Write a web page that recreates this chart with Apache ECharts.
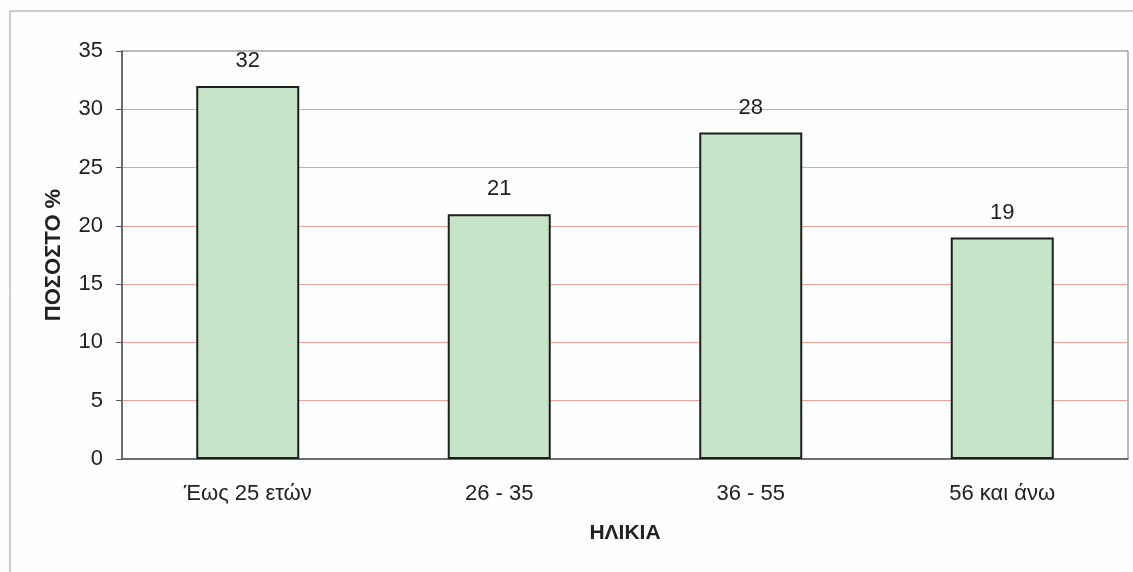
<!DOCTYPE html>
<html>
	<head>
		<meta charset="utf-8">
		<title></title>
	</head>
	<body style="margin:0;background:#fdfefe;">
		<div id="container" style="width: 1133px;height:572px;"></div>
	</body>
	<script src="https://cdn.jsdelivr.net/npm/echarts@6/dist/echarts.min.js"></script>
	<script type="text/javascript">
		'use strict'

		// ηλικιακές ομάδες και ποσοστά
		var categories = ['Έως 25 ετών', '26 - 35', '36 - 55', '56 και άνω'];
		var values = [32, 21, 28, 19];

		var myCharts = echarts.init(document.getElementById('container'));
		var option = {
			backgroundColor: '#fdfefe',
			textStyle: {
				fontFamily: '"Liberation Sans", Arial, sans-serif'
			},
			// πλαίσιο γύρω από το διάγραμμα
			graphic: [{
				type: 'polyline',
				shape: {
					points: [[10, 572], [10, 11], [1133, 11]]
				},
				style: {
					stroke: '#9a9a9a',
					lineWidth: 1,
					fill: null
				},
				silent: true
			}],
			grid: {
				left: 122,
				top: 51,
				right: 5,
				bottom: 113,
				show: true,
				borderColor: '#777',
				borderWidth: 1,
				backgroundColor: 'transparent'
			},
			xAxis: [{
				type: 'category',
				data: categories,
				boundaryGap: true,
				name: 'ΗΛΙΚΙΑ',
				nameLocation: 'middle',
				nameGap: 64,
				nameTextStyle: {
					fontSize: 21,
					fontWeight: 'bold',
					color: '#222'
				},
				axisLine: {
					lineStyle: { color: '#555', width: 1.5 }
				},
				axisTick: {
					length: 6,
					lineStyle: { color: '#555' }
				},
				axisLabel: {
					fontSize: 22,
					color: '#222',
					margin: 24
				}
			}],
			yAxis: [{
				type: 'value',
				min: 0,
				max: 35,
				interval: 5,
				name: 'ΠΟΣΟΣΤΟ %',
				nameLocation: 'middle',
				nameGap: 57,
				nameTextStyle: {
					fontSize: 22,
					fontWeight: 'bold',
					color: '#222'
				},
				axisLine: {
					show: true,
					lineStyle: { color: '#555', width: 1.5 }
				},
				axisTick: {
					show: true,
					length: 6,
					lineStyle: { color: '#555' }
				},
				axisLabel: {
					fontSize: 22,
					color: '#222',
					margin: 19
				},
				splitLine: {
					show: true,
					showMinLine: false,
					showMaxLine: false,
					lineStyle: { color: '#f2a096', width: 1 }
				}
			}],
			series: [{
				type: 'bar',
				data: values,
				barWidth: 103,
				itemStyle: {
					color: '#c6e4c8',
					borderColor: '#1e1e1e',
					borderWidth: 2
				},
				label: {
					show: true,
					position: 'top',
					distance: 14,
					fontSize: 22,
					color: '#222'
				}
			}]
		};
		myCharts.setOption(option);
	</script>
</html>
